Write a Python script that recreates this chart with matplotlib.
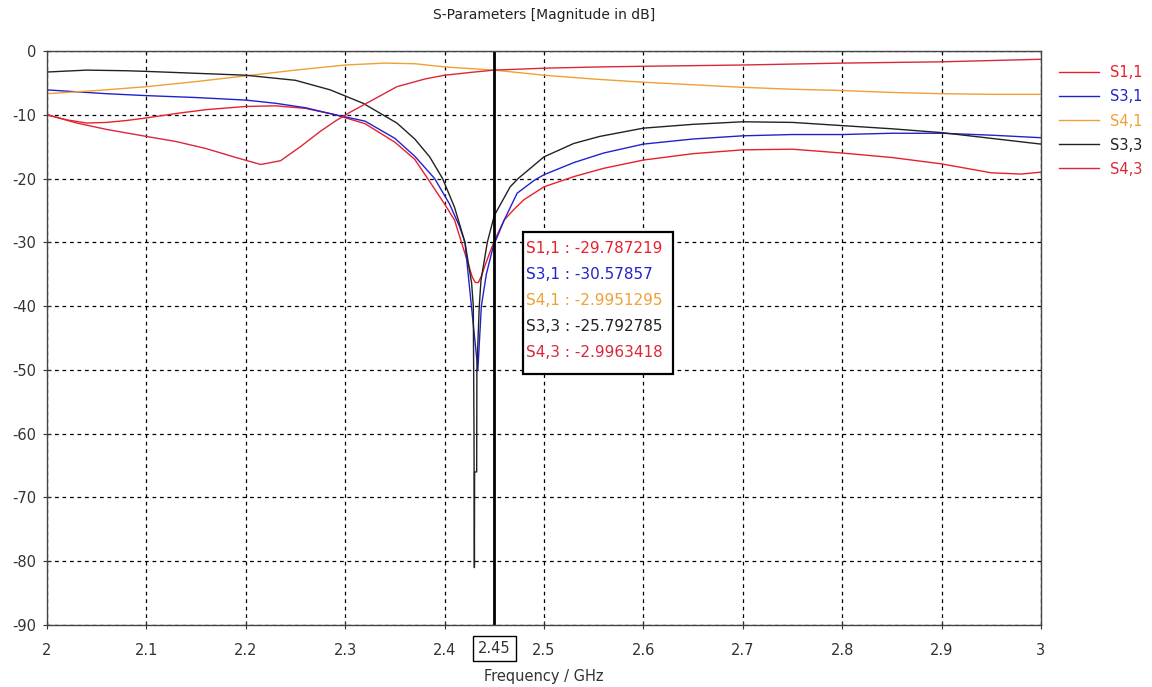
import matplotlib
matplotlib.use("Agg")
import matplotlib.pyplot as plt
from matplotlib.lines import Line2D

# ---------------- data ----------------
f_s11 = [2.00, 2.02, 2.04, 2.06, 2.08, 2.10, 2.13, 2.16, 2.20, 2.23, 2.26, 2.29,
         2.32, 2.35, 2.37, 2.383, 2.40, 2.41, 2.417, 2.424, 2.428, 2.431, 2.434,
         2.437, 2.441, 2.445, 2.45, 2.46, 2.47, 2.48, 2.50, 2.53, 2.56, 2.60,
         2.65, 2.70, 2.75, 2.80, 2.85, 2.90, 2.95, 2.98, 3.00]
db_s11 = [-10.0, -10.8, -11.3, -11.2, -10.9, -10.5, -9.8, -9.2, -8.7, -8.6, -9.0, -10.0,
          -11.4, -14.3, -17.0, -20.0, -24.0, -26.5, -30.0, -33.5, -35.5, -36.3, -36.3,
          -35.3, -33.5, -31.8, -29.8, -26.5, -24.8, -23.3, -21.3, -19.7, -18.4, -17.1,
          -16.1, -15.5, -15.4, -16.0, -16.7, -17.7, -19.1, -19.3, -19.0]

f_s31 = [2.00, 2.03, 2.06, 2.10, 2.15, 2.20, 2.23, 2.26, 2.29, 2.32, 2.35, 2.37,
         2.39, 2.405, 2.415, 2.4205, 2.427, 2.4335, 2.437, 2.442, 2.449, 2.46,
         2.473, 2.49, 2.50, 2.53, 2.56, 2.60, 2.65, 2.70, 2.75, 2.80, 2.85, 2.90,
         2.95, 3.00]
db_s31 = [-6.1, -6.4, -6.7, -7.0, -7.3, -7.7, -8.2, -8.9, -10.0, -11.0, -13.7, -16.5,
          -20.0, -24.0, -27.5, -30.0, -40.0, -50.0, -40.0, -35.0, -30.6, -26.5,
          -22.3, -20.3, -19.4, -17.5, -16.0, -14.6, -13.8, -13.3, -13.1, -13.1, -12.9, -12.9,
          -13.2, -13.6]

f_s41 = [2.00, 2.05, 2.10, 2.15, 2.20, 2.25, 2.30, 2.34, 2.37, 2.40, 2.45, 2.50,
         2.55, 2.60, 2.65, 2.70, 2.75, 2.80, 2.85, 2.90, 2.95, 3.00]
db_s41 = [-6.7, -6.2, -5.6, -4.8, -3.9, -3.0, -2.2, -1.9, -2.0, -2.5, -3.0, -3.8,
          -4.4, -4.9, -5.3, -5.7, -6.0, -6.2, -6.5, -6.7, -6.8, -6.8]

f_s33 = [2.00, 2.04, 2.08, 2.10, 2.15, 2.20, 2.25, 2.285, 2.318, 2.352, 2.37, 2.385,
         2.398, 2.41, 2.4205, 2.4272, 2.4289, 2.4296, 2.4300, 2.4302, 2.4323, 2.4325,
         2.4349, 2.4366, 2.443, 2.45, 2.466, 2.474, 2.50, 2.53, 2.556, 2.60, 2.65,
         2.70, 2.75, 2.80, 2.85, 2.90, 2.95, 3.00]
db_s33 = [-3.3, -3.0, -3.1, -3.2, -3.5, -3.8, -4.6, -6.1, -8.2, -11.3, -13.8, -16.6,
          -20.0, -24.5, -30.0, -36.4, -40.0, -60.0, -81.0, -66.0, -66.0, -50.0,
          -40.0, -36.0, -30.0, -25.8, -21.3, -20.0, -16.6, -14.5, -13.4, -12.1, -11.5,
          -11.1, -11.2, -11.7, -12.2, -12.8, -13.7, -14.6]

f_s43 = [2.00, 2.03, 2.06, 2.10, 2.13, 2.16, 2.19, 2.215, 2.235, 2.255, 2.275, 2.29,
         2.305, 2.318, 2.352, 2.38, 2.40, 2.43, 2.45, 2.50, 2.556, 2.60, 2.70, 2.80,
         2.90, 3.00]
db_s43 = [-10.0, -11.3, -12.3, -13.4, -14.2, -15.3, -16.7, -17.8, -17.2, -15.0, -12.6, -11.0,
          -9.6, -8.5, -5.6, -4.4, -3.8, -3.3, -3.0, -2.7, -2.5, -2.4, -2.2, -1.9,
          -1.7, -1.3]

series_names = ["S1,1", "S3,1", "S4,1", "S3,3", "S4,3"]
marker_freq = 2.45
marker_label = "2.45"
marker_values = ["-29.787219", "-30.57857", "-2.9951295", "-25.792785", "-2.9963418"]

x_ticks = [2.0, 2.1, 2.2, 2.3, 2.4, 2.5, 2.6, 2.7, 2.8, 2.9, 3.0]
x_tick_labels = ["2", "2.1", "2.2", "2.3", "2.4", "2.5", "2.6", "2.7", "2.8", "2.9", "3"]
y_ticks = [0, -10, -20, -30, -40, -50, -60, -70, -80, -90]

# ---------------- styling ----------------
colors = ["#e8202c", "#2222cc", "#f0a035", "#222222", "#d8283a"]
plt.rcParams['font.family'] = ['DejaVu Sans']
plt.rcParams['axes.unicode_minus'] = False

fig = plt.figure(figsize=(11.52, 6.87), dpi=100)
ax = fig.add_axes([0.0408, 0.0902, 0.8628, 0.8356])

series = [(f_s11, db_s11), (f_s31, db_s31), (f_s41, db_s41), (f_s33, db_s33), (f_s43, db_s43)]
for (fx, dy), c, name in zip(series, colors, series_names):
    ax.plot(fx, dy, color=c, lw=1.0, label=name)

ax.set_xlim(2.0, 3.0)
ax.set_ylim(-90, 0)
ax.set_xticks(x_ticks)
ax.set_xticklabels(x_tick_labels)
ax.set_yticks(y_ticks)
ax.tick_params(direction='inout', length=6, width=0.8, labelsize=10.5, colors='#333333')
ax.tick_params(axis='x', pad=10)
ax.tick_params(axis='y', pad=5)
ax.grid(True, color='black', linestyle=(0, (3, 3)), linewidth=0.9)
for sp in ax.spines.values():
    sp.set_color('#444444')
    sp.set_linewidth(1.0)

# marker line
ax.axvline(marker_freq, color='black', lw=2.0)

# boxed marker tick label (same row as the other tick labels)
ax.text(marker_freq, -0.0415, marker_label, transform=ax.get_xaxis_transform(),
        ha='center', va='center', fontsize=10.5, color='#333333',
        bbox=dict(boxstyle='square,pad=0.35', fc='white', ec='black', lw=1.0))

# marker value box
lines_txt = [f"{n} : {v}" for n, v in zip(series_names, marker_values)]
box_x = 2.4815
box_top = -29.0
step = 4.05
ax.add_patch(plt.Rectangle((2.479, -50.6), 0.151, 22.2, fc='white', ec='black', lw=1.6,
                           zorder=5))
for i, (t, c) in enumerate(zip(lines_txt, colors)):
    ax.text(box_x, box_top - 2.0 - i * step, t, color=c, fontsize=11, ha='left',
            va='center', zorder=6)

ax.set_title("S-Parameters [Magnitude in dB]", fontsize=10, color='#222222', pad=23)
ax.set_xlabel("Frequency / GHz", fontsize=10.5, color='#333333', labelpad=8)

handles = [Line2D([0], [0], color=c, lw=1.0) for c in colors]
leg = ax.legend(handles, series_names, loc='upper left', bbox_to_anchor=(1.0125, 0.985),
                frameon=False, fontsize=10.5, handlelength=2.7, handletextpad=0.75,
                labelspacing=0.62, borderaxespad=0.0)
for txt, c in zip(leg.get_texts(), colors):
    txt.set_color(c)

fig.savefig("out.png", dpi=100)
